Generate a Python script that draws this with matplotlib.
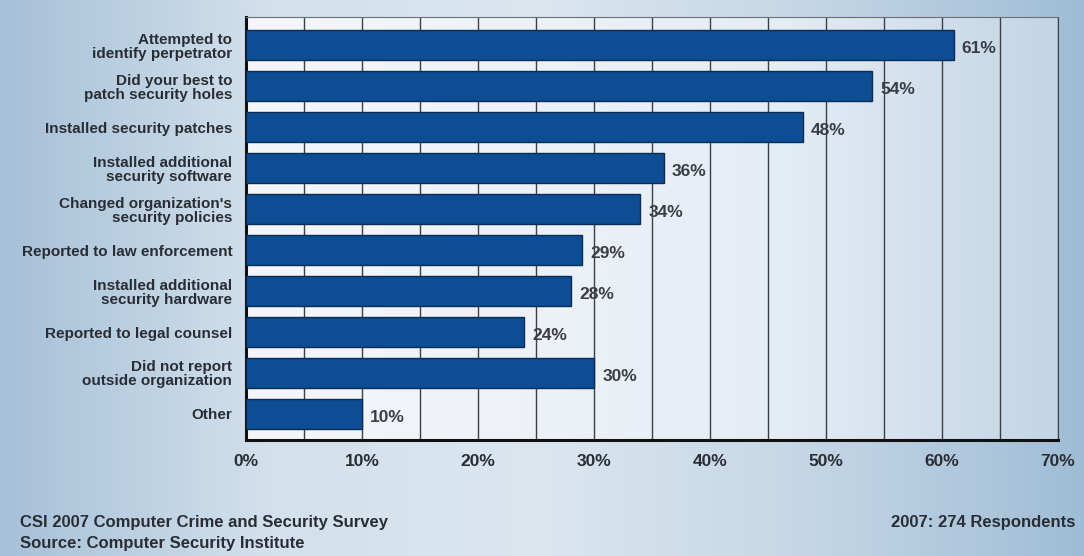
import numpy as np
import matplotlib.pyplot as plt
from matplotlib.colors import LinearSegmentedColormap

categories = [
    "Attempted to\nidentify perpetrator",
    "Did your best to\npatch security holes",
    "Installed security patches",
    "Installed additional\nsecurity software",
    "Changed organization's\nsecurity policies",
    "Reported to law enforcement",
    "Installed additional\nsecurity hardware",
    "Reported to legal counsel",
    "Did not report\noutside organization",
    "Other",
]
values = [61, 54, 48, 36, 34, 29, 28, 24, 30, 10]
xticks = [0, 10, 20, 30, 40, 50, 60, 70]
xtick_labels = ["0%", "10%", "20%", "30%", "40%", "50%", "60%", "70%"]

plt.rcParams['font.family'] = ['Liberation Sans', 'DejaVu Sans']
txt_col = '#2a2d33'

fig = plt.figure(figsize=(10.84, 5.56), dpi=100)

# fondo con degradado
bg = fig.add_axes([0, 0, 1, 1], zorder=-10)
bg_cmap = LinearSegmentedColormap.from_list(
    'bg', ['#a6c0d8', '#d3e1ec', '#dbe6ef', '#c4d6e6', '#9fbdd6'])
grad = np.linspace(0, 1, 256).reshape(1, -1)
bg.imshow(grad, cmap=bg_cmap, aspect='auto', extent=(0, 1, 0, 1))
bg.axis('off')

ax = fig.add_axes([0.227, 0.209, 0.749, 0.760])
n = len(categories)
y = np.arange(n)
ylim = (n - 1 + 0.63, -0.68)

ax_cmap = LinearSegmentedColormap.from_list(
    'ax', ['#f4f6fa', '#eef2f8', '#e4ecf4', '#c3d5e6'])
ax.imshow(grad, cmap=ax_cmap, aspect='auto',
          extent=(0, 70, ylim[0], ylim[1]), zorder=0)

ax.barh(y, values, height=0.73, color='#0c4d93', edgecolor='#0a2c55',
        linewidth=1.0, zorder=3)

for yi, v in zip(y, values):
    ax.text(v + 0.7, yi + 0.08, f"{v}%", va='center', ha='left',
            fontsize=12.5, fontweight='bold', color='#3a3d44', zorder=4)

ax.set_xlim(0, 70)
ax.set_ylim(*ylim)
ax.set_xticks(xticks)
ax.set_xticklabels(xtick_labels, fontsize=12.5, fontweight='bold', color=txt_col)
ax.set_xticks(np.arange(5, 70, 10), minor=True)
ax.set_yticks(y)
ax.set_yticklabels(categories, fontsize=11, fontweight='bold', color=txt_col,
                   linespacing=1.0)
ax.tick_params(axis='both', which='both', length=0)
ax.tick_params(axis='x', pad=10)
ax.tick_params(axis='y', pad=10)

ax.grid(axis='x', which='both', color='#3c4046', linewidth=1.0, zorder=1)
ax.set_axisbelow(True)

ax.spines['left'].set_linewidth(2.2)
ax.spines['left'].set_color('#111')
ax.spines['bottom'].set_linewidth(2.2)
ax.spines['bottom'].set_color('#111')
ax.spines['top'].set_linewidth(0.8)
ax.spines['top'].set_color('#6a7078')
ax.spines['right'].set_linewidth(0.8)
ax.spines['right'].set_color('#3c4046')

fig.text(0.018, 0.06, "CSI 2007 Computer Crime and Security Survey",
         fontsize=12, fontweight='bold', color=txt_col, va='center')
fig.text(0.018, 0.022, "Source: Computer Security Institute",
         fontsize=12, fontweight='bold', color=txt_col, va='center')
fig.text(0.992, 0.06, "2007: 274 Respondents", fontsize=12,
         fontweight='bold', color=txt_col, va='center', ha='right')

plt.savefig('out.png', dpi=100)
